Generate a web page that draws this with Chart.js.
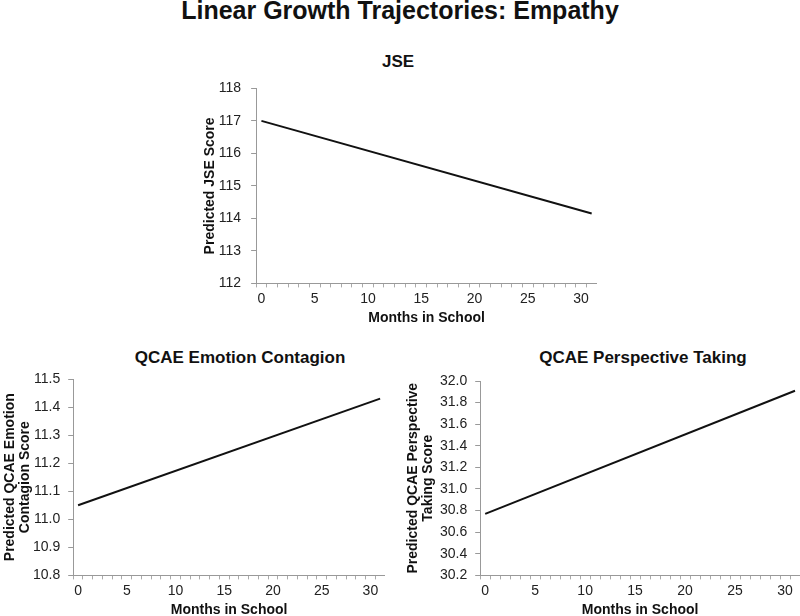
<!DOCTYPE html>
<html>
<head>
<meta charset="utf-8">
<script src="https://cdn.jsdelivr.net/npm/chart.js@4.4.1/dist/chart.umd.min.js"></script>
<style>
  body { margin: 0; background: #fff; width: 800px; height: 616px; overflow: hidden; position: relative; font-family: "Liberation Sans", Arial, sans-serif; }
  h1 { position: absolute; top: -5px; left: 0; width: 800px; margin: 0; text-align: center; font-size: 25px; line-height: 30px; font-weight: bold; color: #111; }
  .sub { position: absolute; width: 400px; text-align: center; font-size: 17px; line-height: 20px; font-weight: bold; color: #111; }
  .box { position: absolute; }
</style>
</head>
<body>
<h1>Linear Growth Trajectories: Empathy</h1>
<div class="sub" style="left:198px; top:52px;">JSE</div>
<div class="sub" style="left:40px; top:348px;">QCAE Emotion Contagion</div>
<div class="sub" style="left:443px; top:348px;">QCAE Perspective Taking</div>
<div class="box" style="left:202px; top:70px; width:395px; height:257px;"><canvas id="jseChart"></canvas></div>
<div class="box" style="left:3px; top:340px; width:382px; height:279px;"><canvas id="ecChart"></canvas></div>
<div class="box" style="left:406px; top:340px; width:394px; height:279px;"><canvas id="ptChart"></canvas></div>
<script>
// months 0..31 on a category axis
const months = Array.from({ length: 32 }, (_, i) => String(i));

// predicted scores at the start and end of the trajectory
const jsePoints = [{ x: "0", y: 117.0 }, { x: "31", y: 114.15 }];
const ecPoints = [{ x: "0", y: 11.05 }, { x: "31", y: 11.43 }];
const ptPoints = [{ x: "0", y: 30.77 }, { x: "31", y: 31.91 }];

const jseTicks = [112, 113, 114, 115, 116, 117, 118];
const ecTicks = [10.8, 10.9, 11.0, 11.1, 11.2, 11.3, 11.4, 11.5];
const ptTicks = [30.2, 30.4, 30.6, 30.8, 31.0, 31.2, 31.4, 31.6, 31.8, 32.0];

Chart.defaults.font.family = "'Liberation Sans', Arial, sans-serif";
Chart.defaults.color = "#222";

// o: per-chart spacing (top padding, y title gap, y tick padding, title line height)
const makeChart = (id, yTitle, points, yTicks, decimals, o) => {
    const ctx = document.getElementById(id);
    new Chart(ctx, {
        type: "line",
        data: {
            labels: months,
            datasets: [{
                data: points,
                borderColor: "#111",
                borderWidth: 2,
                pointRadius: 0,
                fill: false,
            }],
        },
        options: {
            responsive: true,
            maintainAspectRatio: false,
            animation: false,
            layout: { padding: { top: o.top, right: 0, left: 0, bottom: 0 } },
            plugins: {
                legend: { display: false },
                tooltip: { enabled: false },
            },
            scales: {
                x: {
                    type: "category",
                    offset: true,
                    border: { color: "#999", width: 1 },
                    grid: { offset: true, drawOnChartArea: false, tickLength: 4, color: "#aaa" },
                    ticks: {
                        autoSkip: false,
                        maxRotation: 0,
                        padding: 3,
                        font: { size: 14 },
                        color: "#222",
                        callback: (val, i) => (i % 5 === 0 ? months[i] : ""),
                    },
                    title: {
                        display: true,
                        text: "Months in School",
                        color: "#111",
                        font: { size: 14, weight: "bold" },
                        padding: { top: 0, bottom: 0 },
                    },
                },
                y: {
                    min: yTicks[0],
                    max: yTicks[yTicks.length - 1],
                    afterBuildTicks: (axis) => { axis.ticks = yTicks.map((v) => ({ value: v })); },
                    border: { color: "#999", width: 1 },
                    grid: { drawOnChartArea: false, tickLength: 5, color: "#999" },
                    ticks: {
                        padding: o.tickPad,
                        font: { size: 14 },
                        color: "#222",
                        callback: (v) => v.toFixed(decimals),
                    },
                    title: {
                        display: true,
                        text: yTitle,
                        color: "#111",
                        font: { size: 14, weight: "bold", lineHeight: o.lh },
                        padding: { top: 0, bottom: o.titleGap },
                    },
                },
            },
        },
    });
};

makeChart("jseChart", "Predicted JSE Score", jsePoints, jseTicks, 0,
    { top: 18, titleGap: -10, tickPad: 10, lh: 1.2 });
makeChart("ecChart", ["Predicted QCAE Emotion", "Contagion Score"], ecPoints, ecTicks, 1,
    { top: 39, titleGap: -8, tickPad: 8, lh: 1.07 });
makeChart("ptChart", ["Predicted QCAE Perspective", "Taking Score"], ptPoints, ptTicks, 1,
    { top: 41, titleGap: -4, tickPad: 8, lh: 1.07 });
</script>
</body>
</html>
